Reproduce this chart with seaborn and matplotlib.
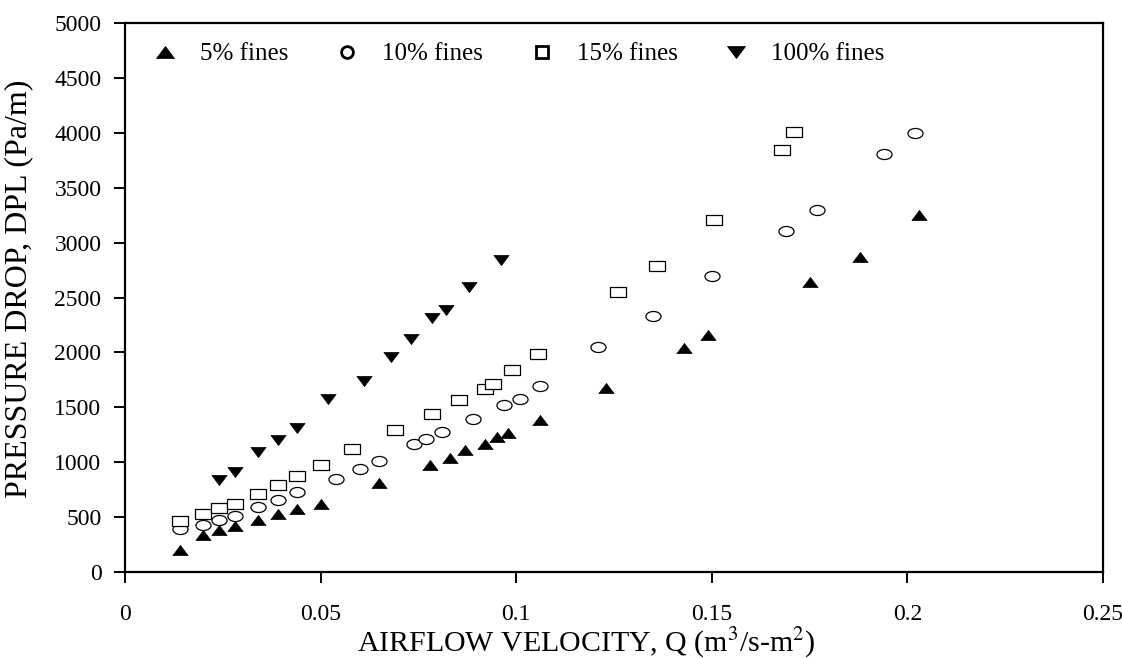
import numpy as np
import pandas as pd
import matplotlib
matplotlib.use("Agg")
import matplotlib.pyplot as plt
import seaborn as sns
from matplotlib.path import Path
from matplotlib.transforms import Affine2D
from matplotlib.lines import Line2D

# ---------------- data ----------------
x_5 = [0.014, 0.020, 0.024, 0.028, 0.034, 0.039, 0.044, 0.050, 0.065, 0.078, 0.083,
       0.087, 0.092, 0.095, 0.098, 0.106, 0.123, 0.143, 0.149, 0.175, 0.188, 0.203]
y_5 = [200, 340, 380, 420, 470, 530, 570, 620, 810, 970, 1040,
       1110, 1170, 1230, 1270, 1380, 1680, 2040, 2160, 2640, 2870, 3250]

x_10 = [0.014, 0.020, 0.024, 0.028, 0.034, 0.039, 0.044, 0.054, 0.060, 0.065, 0.074, 0.077,
        0.081, 0.089, 0.097, 0.101, 0.106, 0.121, 0.135, 0.150, 0.169, 0.177, 0.194, 0.202]
y_10 = [390, 430, 470, 510, 595, 660, 730, 850, 935, 1010, 1165, 1210,
        1275, 1395, 1525, 1580, 1695, 2045, 2330, 2695, 3110, 3300, 3810, 4000]

x_15 = [0.014, 0.020, 0.024, 0.028, 0.034, 0.039, 0.044, 0.050, 0.058, 0.069, 0.0785,
        0.0855, 0.092, 0.094, 0.099, 0.1055, 0.126, 0.136, 0.1505, 0.168, 0.171]
y_15 = [460, 530, 580, 620, 710, 790, 870, 970, 1120, 1290, 1440,
        1565, 1665, 1710, 1840, 1985, 2550, 2790, 3205, 3845, 4010]

x_100 = [0.024, 0.028, 0.034, 0.039, 0.044, 0.052, 0.061, 0.068, 0.073, 0.0785, 0.082, 0.088, 0.096]
y_100 = [835, 915, 1095, 1205, 1315, 1575, 1740, 1960, 2125, 2310, 2390, 2595, 2845]

series_labels = ["5% fines", "10% fines", "15% fines", "100% fines"]
x_ticks = [0, 0.05, 0.1, 0.15, 0.2, 0.25]
x_tick_labels = ["0", "0.05", "0.1", "0.15", "0.2", "0.25"]
y_ticks = [0, 500, 1000, 1500, 2000, 2500, 3000, 3500, 4000, 4500, 5000]
y_tick_labels = [str(v) for v in y_ticks]
x_label = r"AIRFLOW VELOCITY, Q (m$^3$/s-m$^2$)"
y_label = "PRESSURE DROP, DPL (Pa/m)"

# ---------------- style ----------------
sns.set_theme(style="ticks")
plt.rcParams["font.family"] = ["Liberation Serif", "DejaVu Serif"]
plt.rcParams["mathtext.fontset"] = "stix"
plt.rcParams["text.color"] = "black"
plt.rcParams["axes.labelcolor"] = "black"
plt.rcParams["xtick.color"] = "black"
plt.rcParams["ytick.color"] = "black"

# flattened (wide) marker shapes
tri_up = Path([(-1.5, -1), (1.5, -1), (0, 1), (-1.5, -1)],
              [Path.MOVETO, Path.LINETO, Path.LINETO, Path.CLOSEPOLY])
tri_down = Path([(-1.5, 1), (1.5, 1), (0, -1), (-1.5, 1)],
                [Path.MOVETO, Path.LINETO, Path.LINETO, Path.CLOSEPOLY])
ellipse = Affine2D().scale(1.5, 1.0).transform_path(Path.unit_circle())
rect = Path([(-1.5, -1), (1.5, -1), (1.5, 1), (-1.5, 1), (-1.5, -1)],
            [Path.MOVETO, Path.LINETO, Path.LINETO, Path.LINETO, Path.CLOSEPOLY])

fig = plt.figure(figsize=(11.22, 6.58), dpi=100)
ax = fig.add_axes([125 / 1122, (658 - 572) / 658, (1103 - 125) / 1122, (572 - 23) / 658])

sns.scatterplot(x=x_5, y=y_5, ax=ax, marker=tri_up, s=120, color="black",
                facecolor="black", edgecolor="black", linewidth=0.5, zorder=3)
sns.scatterplot(x=x_10, y=y_10, ax=ax, marker=ellipse, s=118, color="black",
                facecolor="white", edgecolor="black", linewidth=0.9, zorder=3)
sns.scatterplot(x=x_15, y=y_15, ax=ax, marker=rect, s=135, color="black",
                facecolor="white", edgecolor="black", linewidth=0.9, zorder=3)
sns.scatterplot(x=x_100, y=y_100, ax=ax, marker=tri_down, s=120, color="black",
                facecolor="black", edgecolor="black", linewidth=0.5, zorder=3)

ax.set_xlim(0, 0.25)
ax.set_ylim(0, 5000)
ax.set_xticks(x_ticks)
ax.set_xticklabels(x_tick_labels, fontsize=17)
ax.set_yticks(y_ticks)
ax.set_yticklabels(y_tick_labels, fontsize=17)
ax.tick_params(axis="both", direction="out", length=8, width=1.4, colors="black")
ax.tick_params(axis="x", pad=15)
ax.tick_params(axis="y", pad=9)
for sp in ax.spines.values():
    sp.set_visible(True)
    sp.set_linewidth(1.6)
    sp.set_color("black")

ax.set_xlabel(x_label, fontsize=21.5)
ax.xaxis.set_label_coords(0.472, -0.098)
ax.set_ylabel(y_label, fontsize=23)
ax.yaxis.set_label_coords(-0.094, 0.515)

handles = [
    Line2D([], [], linestyle="none", marker=tri_up, markersize=13, color="black", mew=0.5),
    Line2D([], [], linestyle="none", marker="o", markersize=8.5, markerfacecolor="white",
           markeredgecolor="black", mew=2.0),
    Line2D([], [], linestyle="none", marker="s", markersize=8, markerfacecolor="white",
           markeredgecolor="black", mew=2.0),
    Line2D([], [], linestyle="none", marker=tri_down, markersize=13, color="black", mew=0.5),
]
ax.legend(handles, series_labels, loc="center left", bbox_to_anchor=(0.028, 0.9435),
          ncol=4, frameon=False, fontsize=18, handlelength=1.0, handletextpad=0.9,
          columnspacing=1.85, borderpad=0, borderaxespad=0)

fig.savefig("out.png", dpi=100, facecolor="white")
